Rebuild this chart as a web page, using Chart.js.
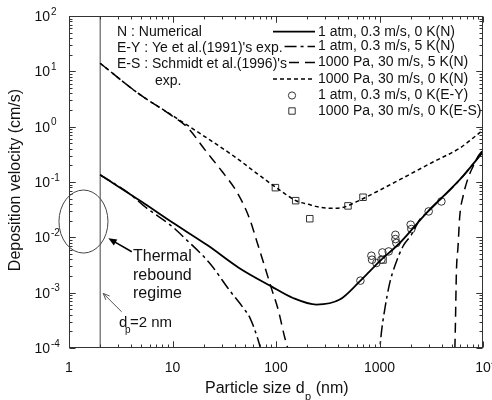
<!DOCTYPE html>
<html>
<head>
<meta charset="utf-8">
<script src="https://cdn.jsdelivr.net/npm/chart.js@4.4.1/dist/chart.umd.min.js"></script>
<style>
  html, body { margin: 0; padding: 0; background: #fff; }
  #wrap { width: 492px; height: 400px; }
</style>
</head>
<body>
<div id="wrap"><canvas id="chart" width="492" height="400"></canvas></div>
<script>
// particle size dp (nm) -> deposition velocity (cm/s)
const dpAtm0K = [2, 5, 10, 22, 44, 90, 146, 246, 413, 644, 804, 1000, 1567, 2838, 5960, 10000];
const vAtm0K  = [0.135, 0.0443, 0.0185, 0.0071, 0.0028, 0.0013, 0.0008, 0.00061, 0.00075, 0.0016, 0.00243, 0.00367, 0.0079, 0.0275, 0.11, 0.35];

// 1 atm, 5 K: two branches (negative in between)
const dpAtm5K_a = [2, 3.86, 5.6, 10, 13.1, 22.9, 35.6, 49.8, 56, 67, 76];
const vAtm5K_a  = [0.135, 0.061, 0.034, 0.0155, 0.0097, 0.0034, 0.0011, 0.00049, 0.00035, 0.000142, 0.00006];
const dpAtm5K_b = [985, 1043, 1122, 1256, 1403, 1687, 2032, 2448, 2838, 5960, 10000];
const vAtm5K_b  = [0.00006, 0.00019, 0.00049, 0.0015, 0.003, 0.0069, 0.0111, 0.0208, 0.0275, 0.11, 0.35];

// 1000 Pa, 30 m/s, 5 K
const dpPa5K_a = [2, 4.64, 9.76, 14.1, 20.6, 29.9, 40.2, 48.3, 56.1, 65.1, 75.4, 90.8, 105, 122, 136];
const vPa5K_a  = [14, 4.03, 1.6, 0.95, 0.381, 0.158, 0.0747, 0.04, 0.0206, 0.0086, 0.00358, 0.00116, 0.00049, 0.00015, 0.000075];
const dpPa5K_b = [5300, 5410, 5530, 5740, 5960, 6410, 7170, 8000, 8950, 10000];
const vPa5K_b  = [0.00005, 0.00025, 0.00226, 0.0069, 0.0238, 0.0547, 0.117, 0.19, 0.29, 0.38];

// 1000 Pa, 30 m/s, 0 K
const dpPa0K = [2, 4.64, 9.76, 20.5, 40, 65.1, 97.8, 158.5, 205, 266, 345, 431, 602, 940, 1567, 3290, 5960, 10000];
const vPa0K  = [14, 4.03, 1.63, 0.662, 0.285, 0.1436, 0.0822, 0.0453, 0.0395, 0.0349, 0.0335, 0.0343, 0.0441, 0.0667, 0.11, 0.23, 0.41, 0.87];

// experiments
const dpYe = [654, 835, 847, 933, 1067, 1043, 1227, 1425, 1425, 1456, 2001, 2032, 2986, 3963];
const vYe  = [0.00165, 0.00465, 0.00394, 0.00344, 0.00533, 0.00394, 0.00556, 0.0111, 0.0093, 0.0079, 0.0169, 0.0141, 0.0294, 0.0445];
const dpSchmidt = [98.7, 155, 212, 496, 693, 1081];
const vSchmidt  = [0.079, 0.046, 0.0217, 0.037, 0.053, 0.0039];

const xTicks = [1, 10, 100, 1000, 10000];
const yExps = [2, 1, 0, -1, -2, -3, -4];

const FONT = '"Liberation Sans", Arial, sans-serif';

function pts(xs, ys) {
    return xs.map((x, i) => ({ x: x, y: ys[i] }));
}
function gapJoin(a, b) {
    return a.concat([{ x: (a[a.length - 1].x + b[0].x) / 2, y: null }], b);
}

const lineBase = { pointRadius: 0, fill: false, borderColor: '#000', cubicInterpolationMode: 'monotone', clip: 0 };

const datasets = [
    Object.assign({}, lineBase, { label: '1 atm, 0.3 m/s, 0 K(N)', data: pts(dpAtm0K, vAtm0K), borderWidth: 1.8 }),
    Object.assign({}, lineBase, { label: '1 atm, 0.3 m/s, 5 K(N)', data: gapJoin(pts(dpAtm5K_a, vAtm5K_a), pts(dpAtm5K_b, vAtm5K_b)), borderWidth: 1.5, borderDash: [12, 4, 3, 4] }),
    Object.assign({}, lineBase, { label: '1000 Pa, 30 m/s, 5 K(N)', data: gapJoin(pts(dpPa5K_a, vPa5K_a), pts(dpPa5K_b, vPa5K_b)), borderWidth: 1.5, borderDash: [10, 6] }),
    Object.assign({}, lineBase, { label: '1000 Pa, 30 m/s, 0 K(N)', data: pts(dpPa0K, vPa0K), borderWidth: 1.5, borderDash: [4, 3] }),
    { label: '1 atm, 0.3 m/s, 0 K(E-Y)', data: pts(dpYe, vYe), showLine: false, pointStyle: 'circle', pointRadius: 3.8,
      pointBorderColor: '#333', pointBackgroundColor: 'rgba(0,0,0,0)', pointBorderWidth: 1, borderColor: '#333' },
    { label: '1000 Pa, 30 m/s, 0 K(E-S)', data: pts(dpSchmidt, vSchmidt), showLine: false, pointStyle: 'rect', pointRadius: 4.6,
      pointBorderColor: '#333', pointBackgroundColor: 'rgba(0,0,0,0)', pointBorderWidth: 1, borderColor: '#333' },
    // dp = 2 nm marker line
    { label: 'dp2', data: [{ x: 2, y: 1e-4 }, { x: 2, y: 100 }], pointRadius: 0, borderColor: '#444', borderWidth: 1 }
];

function arrow(ctx, x1, y1, x2, y2, filled, size) {
    const ang = Math.atan2(y2 - y1, x2 - x1);
    ctx.beginPath();
    ctx.moveTo(x1, y1);
    ctx.lineTo(filled ? x2 - Math.cos(ang) * size * 0.8 : x2, filled ? y2 - Math.sin(ang) * size * 0.8 : y2);
    ctx.stroke();
    ctx.beginPath();
    ctx.moveTo(x2 - size * Math.cos(ang - 0.4), y2 - size * Math.sin(ang - 0.4));
    ctx.lineTo(x2, y2);
    ctx.lineTo(x2 - size * Math.cos(ang + 0.4), y2 - size * Math.sin(ang + 0.4));
    if (filled) { ctx.closePath(); ctx.fill(); } else { ctx.stroke(); }
}

const decor = {
    id: 'decor',
    afterDraw(chart) {
        const ctx = chart.ctx;
        const a = chart.chartArea;
        const xs = chart.scales.x, ys = chart.scales.y;
        const L = Math.round(a.left) + 0.5, R = Math.round(a.right) - 0.5;
        const T = Math.round(a.top) + 0.5, B = Math.round(a.bottom) - 0.5;
        ctx.save();

        // frame + inward ticks
        ctx.strokeStyle = '#333';
        ctx.lineWidth = 1;
        ctx.setLineDash([]);
        ctx.strokeRect(L, T, R - L, B - T);
        ctx.beginPath();
        for (let e = 0; e < 4; e++) {
            for (let m = 1; m <= 10; m++) {
                const px = Math.round(xs.getPixelForValue(m * Math.pow(10, e))) + 0.5;
                const len = (m === 1 || m === 10) ? 6 : 3;
                ctx.moveTo(px, B); ctx.lineTo(px, B - len);
                ctx.moveTo(px, T); ctx.lineTo(px, T + len);
            }
        }
        for (let e = -4; e < 2; e++) {
            for (let m = 1; m <= 10; m++) {
                const py = Math.round(ys.getPixelForValue(m * Math.pow(10, e))) + 0.5;
                const len = (m === 1 || m === 10) ? 6 : 3;
                ctx.moveTo(L, py); ctx.lineTo(L + len, py);
                ctx.moveTo(R, py); ctx.lineTo(R - len, py);
            }
        }
        ctx.stroke();

        // tick labels
        ctx.fillStyle = '#111';
        ctx.textBaseline = 'middle';
        xTicks.forEach(v => {
            const px = xs.getPixelForValue(v);
            const py = a.bottom + 20;
            ctx.font = '14px ' + FONT;
            ctx.textAlign = 'center';
            if (v < 10000) {
                ctx.fillText(String(v), px, py);
            } else {
                const w = ctx.measureText('10').width;
                ctx.fillText('10', px, py);
                ctx.font = '10px ' + FONT;
                ctx.textAlign = 'left';
                ctx.fillText('4', px + w / 2 + 0.5, py - 5);
            }
        });
        yExps.forEach(e => {
            const py = ys.getPixelForValue(Math.pow(10, e));
            ctx.font = '14px ' + FONT;
            ctx.textAlign = 'right';
            ctx.fillText('10', a.left - 19, py + 1);
            ctx.font = '10px ' + FONT;
            ctx.textAlign = 'left';
            ctx.fillText(String(e), a.left - 18, py - 4);
        });

        // axis titles
        ctx.font = '16px ' + FONT;
        ctx.textBaseline = 'alphabetic';
        ctx.textAlign = 'left';
        let tx = 205;
        ctx.fillText('Particle size d', tx, 393);
        tx += ctx.measureText('Particle size d').width;
        ctx.font = '11px ' + FONT;
        ctx.fillText('p', tx + 0.5, 400);
        tx += ctx.measureText('p').width + 0.5;
        ctx.font = '16px ' + FONT;
        ctx.fillText(' (nm)', tx, 393);

        ctx.save();
        ctx.translate(16, 180);
        ctx.rotate(-Math.PI / 2);
        ctx.textAlign = 'center';
        ctx.textBaseline = 'middle';
        ctx.fillText('Deposition velocity (cm/s)', 0, 0);
        ctx.restore();

        // thermal rebound ellipse (data-space bounds)
        const ex1 = xs.getPixelForValue(0.80), ex2 = xs.getPixelForValue(2.38);
        const ey1 = ys.getPixelForValue(0.0716), ey2 = ys.getPixelForValue(0.0052);
        ctx.strokeStyle = '#444';
        ctx.lineWidth = 1;
        ctx.beginPath();
        ctx.ellipse((ex1 + ex2) / 2, (ey1 + ey2) / 2, (ex2 - ex1) / 2, (ey2 - ey1) / 2, 0, 0, Math.PI * 2);
        ctx.stroke();

        // arrows
        ctx.strokeStyle = '#000';
        ctx.fillStyle = '#000';
        ctx.lineWidth = 1.6;
        arrow(ctx, xs.getPixelForValue(4.04), ys.getPixelForValue(0.0055), xs.getPixelForValue(2.40), ys.getPixelForValue(0.0096), true, 9);
        ctx.strokeStyle = '#555';
        ctx.lineWidth = 1;
        arrow(ctx, xs.getPixelForValue(3.23), ys.getPixelForValue(0.00045), xs.getPixelForValue(2.14), ys.getPixelForValue(0.00097), false, 7);

        // annotation text
        ctx.fillStyle = '#111';
        ctx.font = '16px ' + FONT;
        ctx.textAlign = 'left';
        ctx.textBaseline = 'alphabetic';
        ctx.fillText('Thermal', 133, 261);
        ctx.fillText('rebound', 133, 280);
        ctx.fillText('regime', 133, 298);
        ctx.font = '15px ' + FONT;
        ctx.fillText('d', 119, 327);
        ctx.font = '10px ' + FONT;
        ctx.fillText('p', 125, 333);
        ctx.font = '15px ' + FONT;
        ctx.fillText('=2 nm', 130, 327);

        // legend: left notes
        ctx.font = '14px ' + FONT;
        ctx.textBaseline = 'middle';
        const notes = [['N : Numerical', 117, 32], ['E-Y : Ye et al.(1991)\'s exp.', 117, 48], ['E-S : Schmidt et al.(1996)\'s', 117, 64.5], ['exp.', 155, 81]];
        notes.forEach(n => ctx.fillText(n[0], n[1], n[2]));
        const endRow2 = 117 + ctx.measureText(notes[1][0]).width + 2;
        const endRow3 = 117 + ctx.measureText(notes[2][0]).width + 2;

        // legend: right column
        const rowsY = [31.7, 46.5, 62.5, 79, 95.5, 111];
        const starts = [273, endRow2, endRow3, 273];
        for (let i = 0; i < 6; i++) {
            const ds = chart.data.datasets[i];
            const y = rowsY[i];
            if (i < 4) {
                ctx.strokeStyle = '#000';
                ctx.lineWidth = ds.borderWidth;
                ctx.setLineDash(ds.borderDash || []);
                ctx.beginPath();
                ctx.moveTo(Math.max(273, starts[i]), y);
                ctx.lineTo(315, y);
                ctx.stroke();
                ctx.setLineDash([]);
            } else {
                ctx.strokeStyle = '#333';
                ctx.lineWidth = 1;
                ctx.beginPath();
                if (i === 4) {
                    ctx.arc(292, y, 3.6, 0, Math.PI * 2);
                } else {
                    ctx.rect(288.8, y - 3.2, 6.4, 6.4);
                }
                ctx.stroke();
            }
            ctx.fillStyle = '#111';
            ctx.textAlign = 'left';
            ctx.fillText(ds.label, 318, y);
        }
        ctx.restore();
    }
};

new Chart(document.getElementById('chart'), {
    type: 'line',
    data: { datasets: datasets },
    options: {
        responsive: false,
        animation: false,
        layout: { padding: { left: 69, top: 16, right: 9, bottom: 52 } },
        plugins: { legend: { display: false }, tooltip: { enabled: false } },
        scales: {
            x: { type: 'logarithmic', min: 1, max: 10000, display: false },
            y: { type: 'logarithmic', min: 1e-4, max: 100, display: false }
        }
    },
    plugins: [decor]
});
</script>
</body>
</html>
